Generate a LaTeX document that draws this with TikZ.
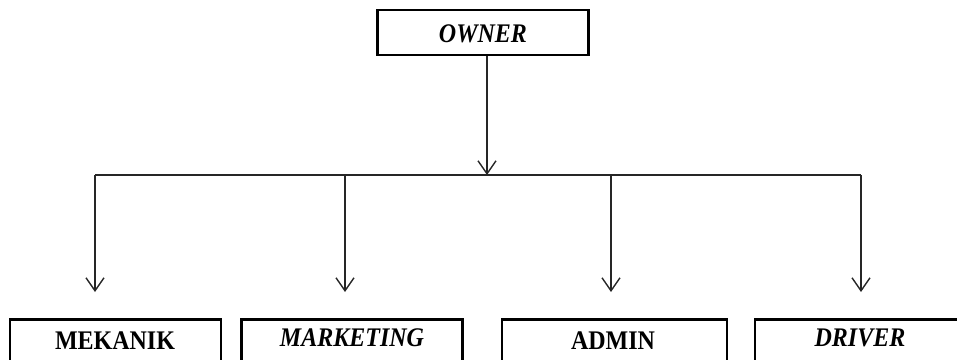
\documentclass[tikz,border=0pt]{standalone}
\usepackage{fontspec}
\setmainfont{Liberation Serif}
\usetikzlibrary{arrows.meta,calc}
% slightly tall lettering
\newcommand{\tallword}[1]{\scalebox{1}[1.12]{#1}}
\begin{document}
\begin{tikzpicture}[x=1pt,y=-1pt,
  box/.style={draw,line width=2.6pt,rectangle,inner sep=0pt},
  lbl/.style={font=\fontsize{24}{26}\selectfont\bfseries,inner sep=0pt},
  ilbl/.style={lbl,font=\fontsize{24}{26}\selectfont\bfseries\itshape},
  conn/.style={line width=1.4pt,draw=black!85},
  arr/.style={conn,-{Straight Barb[length=13pt,width=18pt,line width=1.4pt]}}]
  \useasboundingbox (0,0) rectangle (957,359);
  \clip (0,0) rectangle (957,359);

  % top box
  \node[box,minimum width=211pt,minimum height=45pt] (owner) at (483,32.5) {};
  \node[ilbl] (ownert) at (483,33.5) {\tallword{OWNER}};

  % lower boxes (run past the bottom edge)
  \node[box,anchor=north,minimum width=211pt,minimum height=70pt] (mekanik) at (115.5,318) {};
  \node[box,anchor=north,minimum width=221pt,minimum height=70pt] (marketing) at (352,318) {};
  \node[box,anchor=north,minimum width=225pt,minimum height=70pt] (admin) at (614.5,318) {};
  \node[box,anchor=north,minimum width=230pt,minimum height=70pt] (driver) at (870,318) {};

  \node[lbl] (mekanikt) at (115,341) {\tallword{MEKANIK}};
  \node[ilbl] (marketingt) at (352,338) {\tallword{MARKETING}};
  \node[lbl] (admint) at (613,341) {\tallword{ADMIN}};
  \node[ilbl] (drivert) at (860,338) {\tallword{DRIVER}};

  % junction points
  \coordinate (hub) at (487,175);
  \coordinate (j1) at (95,175);
  \coordinate (j2) at (345,175);
  \coordinate (j3) at (611,175);
  \coordinate (j4) at (861,175);
  \coordinate (t1) at (95,292);
  \coordinate (t2) at (345,292);
  \coordinate (t3) at (611,292);
  \coordinate (t4) at (861,292);

  % connectors
  \draw[arr] (owner.south -| hub) -- (hub);
  \draw[conn] (j1) -- (j4);
  \draw[arr] (j1) -- (t1);
  \draw[arr] (j2) -- (t2);
  \draw[arr] (j3) -- (t3);
  \draw[arr] (j4) -- (t4);
\end{tikzpicture}
\end{document}
